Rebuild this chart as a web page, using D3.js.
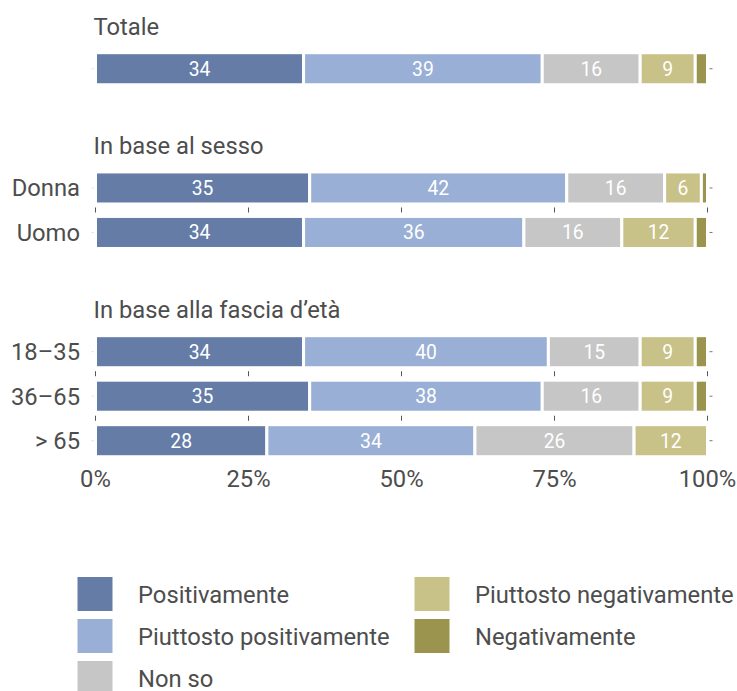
<!DOCTYPE html>
<html>
<head>
<meta charset="utf-8">
<script src="https://cdn.jsdelivr.net/npm/d3@7"></script>
<style>
  html, body { margin: 0; padding: 0; background: #fff; }
  svg { display: block; }
  text { font-family: Roboto, "Liberation Sans", sans-serif; }
</style>
</head>
<body>
<svg id="chart" width="737" height="691"></svg>
<script>
// Survey answers, in percent, one entry per row
const rowLabels = ["", "Donna", "Uomo", "18–35", "36–65", "> 65"];
const rowGroup = [0, 1, 1, 2, 2, 2];
const groupTitles = ["Totale", "In base al sesso", "In base alla fascia d’età"];
const seriesNames = ["Positivamente", "Piuttosto positivamente", "Non so", "Piuttosto negativamente", "Negativamente"];
const positivamente = [34, 35, 34, 34, 35, 28];
const piuttostoPositivamente = [39, 42, 36, 40, 38, 34];
const nonSo = [16, 16, 16, 15, 16, 26];
const piuttostoNegativamente = [9, 6, 12, 9, 9, 12];
const negativamente = [2, 1, 2, 2, 2, 0];
const xTickValues = [0, 25, 50, 75, 100];
const xTickLabels = ["0%", "25%", "50%", "75%", "100%"];

const seriesColors = ["#647ca6", "#9aafd6", "#c6c6c6", "#c8c188", "#9b944f"];
const textColor = "#4d4d4d";
const SX = 0.99; // slight horizontal squeeze

const svg = d3.select("#chart");

// helper: squeezed text anchored at (x, y)
function ctext(parent, x, y, str, opts = {}) {
  const g = parent.append("g").attr("transform", `translate(${x},${y}) scale(${SX},1)`);
  return g.append("text")
    .attr("x", 0).attr("y", 0)
    .attr("text-anchor", opts.anchor || "start")
    .attr("font-size", opts.size || 24)
    .attr("fill", opts.fill || textColor)
    .text(str);
}

const x = d3.scaleLinear().domain([0, 100]).range([95.5, 707.5]);
const color = d3.scaleOrdinal().domain(seriesNames).range(seriesColors);

// row table built from the series arrays
const valuesBySeries = [positivamente, piuttostoPositivamente, nonSo, piuttostoNegativamente, negativamente];
const rows = rowLabels.map((label, i) => {
  const r = { id: i, label, group: rowGroup[i] };
  seriesNames.forEach((s, k) => { r[s] = valuesBySeries[k][i]; });
  return r;
});
const stacked = d3.stack().keys(seriesNames)(rows);

// vertical layout: each group = title + its own band scale
const rowStep = 44.5, barPad = 0.28;
const titleToBar = 17.7, groupGap = 69.5;
let cursor = 35; // first title baseline
const yScales = [];
groupTitles.forEach((title, gi) => {
  const ids = rows.filter(r => r.group === gi).map(r => r.id);
  const barTop = cursor + titleToBar;
  const start = barTop - rowStep * barPad / 2;
  const yb = d3.scaleBand().domain(ids)
    .range([start, start + rowStep * ids.length])
    .paddingInner(barPad).paddingOuter(barPad / 2);
  yScales[gi] = yb;
  ctext(svg, x(0) - 2, cursor, title);
  cursor = yb(ids[ids.length - 1]) + yb.bandwidth() + groupGap;
});
const yTop = r => yScales[r.group](r.id);
const bw = yScales[0].bandwidth();

// small x ticks under each bar that has another bar below it in the same group
rows.forEach((r, i) => {
  const next = rows[i + 1];
  if (!next || next.group !== r.group) return;
  const yb = yTop(r) + bw;
  svg.append("g").selectAll("line").data(xTickValues).join("line")
    .attr("x1", d => x(d)).attr("x2", d => x(d))
    .attr("y1", yb + 3.5).attr("y2", yb + 8.5)
    .attr("stroke", "#555").attr("stroke-width", 1);
});

// faint row ticks either side of the bars
rows.forEach(r => {
  const yc = yTop(r) + bw / 2;
  svg.append("line").attr("x1", x(100) + 2).attr("x2", x(100) + 5)
    .attr("y1", yc).attr("y2", yc).attr("stroke", "#777").attr("stroke-width", 1);
  svg.append("line").attr("x1", x(0) - 4).attr("x2", x(0) - 2)
    .attr("y1", yc).attr("y2", yc).attr("stroke", "#ddd").attr("stroke-width", 1);
});

// stacked segments
const layer = svg.append("g").selectAll("g").data(stacked).join("g")
  .attr("fill", d => color(d.key));
layer.selectAll("rect").data(d => d.filter(p => p[1] - p[0] > 0)).join("rect")
  .attr("x", d => x(d[0]))
  .attr("width", d => x(d[1]) - x(d[0]))
  .attr("y", d => yTop(d.data))
  .attr("height", bw)
  .attr("stroke", "#fff").attr("stroke-width", 3);

// value labels inside segments
stacked.forEach(s => {
  s.forEach(p => {
    const v = p[1] - p[0];
    if (v < 5) return;
    ctext(svg, x((p[0] + p[1]) / 2), yTop(p.data) + bw / 2 + 6.8, v,
      { anchor: "middle", size: 19.5, fill: "#fff" });
  });
});

// row labels
rows.forEach(r => {
  if (!r.label) return;
  ctext(svg, 80, yTop(r) + bw / 2 + 8.5, r.label, { anchor: "end" });
});

// x axis labels under the last bar
const lastBottom = yTop(rows[rows.length - 1]) + bw;
xTickValues.forEach((t, i) => {
  ctext(svg, x(t), lastBottom + 30.7, xTickLabels[i], { anchor: "middle" });
});

// legend, two columns
const legendCols = [[0, 1, 2], [3, 4]];
const legendX = [77.5, 414.5], legendY = 577, legendStep = 42;
legendCols.forEach((col, ci) => {
  col.forEach((si, ri) => {
    const y0 = legendY + ri * legendStep;
    svg.append("rect").attr("x", legendX[ci]).attr("y", y0)
      .attr("width", 35).attr("height", 34).attr("fill", seriesColors[si]);
    ctext(svg, legendX[ci] + 60.5, y0 + 17 + 8.6, seriesNames[si]);
  });
});
</script>
</body>
</html>
